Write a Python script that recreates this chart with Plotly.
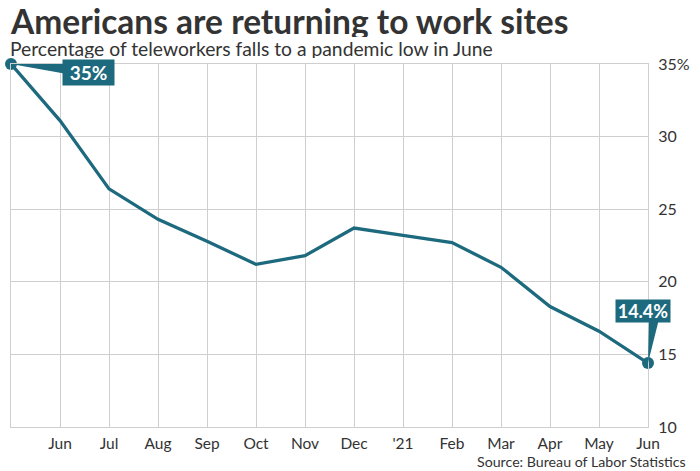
import plotly.graph_objects as go

months = ["May", "Jun", "Jul", "Aug", "Sep", "Oct", "Nov", "Dec", "'21",
          "Feb", "Mar", "Apr", "May", "Jun"]
values = [35.0, 31.1, 26.4, 24.3, 22.8, 21.2, 21.8, 23.7, 23.2, 22.7,
          21.0, 18.3, 16.6, 14.4]
y_ticks = [10, 15, 20, 25, 30, 35]
y_ticktext = ["10", "15", "20", "25", "30", "35%"]
first_label = "35%"
last_label = "14.4%"

TEAL = "#1d6a7e"
GRID = "#cfcfcf"
TXT = "#333333"
FONT = "Lato, 'Open Sans', sans-serif"

W, H = 700, 471
L, R, T, B = 10, 45, 64, 44
pw, ph = W - L - R, H - T - B

xs = list(range(len(values)))
x_last_paper = (xs[-1] - xs[0]) / (len(xs) - 1)

fig = go.Figure()
fig.add_trace(go.Scatter(x=xs, y=values, mode="lines",
                         line=dict(color=TEAL, width=3.3), hoverinfo="skip"))
fig.add_trace(go.Scatter(x=[xs[0], xs[-1]], y=[values[0], values[-1]], mode="markers",
                         marker=dict(color=TEAL, size=12), hoverinfo="skip",
                         cliponaxis=False))

# callout wedges (pixel paths anchored at data points)
fig.add_shape(type="path", xref="paper", yref="y", xsizemode="pixel", ysizemode="pixel",
              xanchor=0, yanchor=values[0],
              path="M 0,0 L 56,1 L 56,-10 Z", fillcolor=TEAL, line=dict(width=0))
fig.add_shape(type="path", xref="paper", yref="y", xsizemode="pixel", ysizemode="pixel",
              xanchor=x_last_paper, yanchor=values[-1],
              path="M 0,0 L 1,44 L 11,44 Z", fillcolor=TEAL, line=dict(width=0))

fig.add_annotation(x=xs[0], y=values[0], xref="x", yref="y", text="<b>" + first_label + "</b>",
                   showarrow=False, xshift=77.5, yshift=-8.5, bgcolor=TEAL, borderpad=2,
                   width=47, height=21,
                   font=dict(family=FONT, size=19, color="white"))
fig.add_annotation(x=xs[-1], y=values[-1], xref="x", yref="y", text="<b>" + last_label + "</b>",
                   showarrow=False, xshift=-5, yshift=52.5, bgcolor=TEAL, borderpad=2,
                   width=50, height=18,
                   font=dict(family=FONT, size=18, color="white"))

def px2paper_x(px):
    return (px - L) / pw

def px2paper_y(py):
    return (H - B - py) / ph

fig.add_annotation(x=px2paper_x(7), y=px2paper_y(20.5), xref="paper", yref="paper",
                   xanchor="left", yanchor="middle", showarrow=False, height=32,
                   text="<b>Americans are returning to work sites</b>",
                   font=dict(family=FONT, size=33.5, color=TXT))
fig.add_annotation(x=px2paper_x(7), y=px2paper_y(48), xref="paper", yref="paper",
                   xanchor="left", yanchor="middle", showarrow=False, height=19,
                   text="Percentage of teleworkers falls to a pandemic low in June",
                   font=dict(family=FONT, size=19.3, color=TXT))
fig.add_annotation(x=px2paper_x(696), y=px2paper_y(461), xref="paper", yref="paper",
                   xanchor="right", yanchor="middle", showarrow=False,
                   text="Source: Bureau of Labor Statistics",
                   font=dict(family=FONT, size=14.2, color=TXT))

fig.update_layout(
    width=W, height=H, margin=dict(l=L, r=R, t=T, b=B),
    paper_bgcolor="white", plot_bgcolor="white", showlegend=False,
    font=dict(family=FONT, color=TXT),
    xaxis=dict(range=[0, len(values) - 1], tickvals=xs[1:], ticktext=months[1:],
               showgrid=True, gridcolor=GRID, gridwidth=1, zeroline=False,
               showline=True, linecolor=GRID, linewidth=1, mirror=True,
               ticks="", tickfont=dict(size=15.5, color=TXT), ticklabelstandoff=2,
               fixedrange=True),
    yaxis=dict(range=[10, 35], side="right", tickvals=y_ticks, ticktext=y_ticktext,
               showgrid=True, gridcolor=GRID, gridwidth=1, zeroline=False,
               showline=True, linecolor=GRID, linewidth=1, mirror=True,
               ticks="", tickfont=dict(size=16, color=TXT), ticklabelstandoff=6,
               fixedrange=True),
)

fig.write_html("out.html", config={"displayModeBar": False},
               post_script="document.body.style.margin='0';document.body.style.overflow='hidden';")
